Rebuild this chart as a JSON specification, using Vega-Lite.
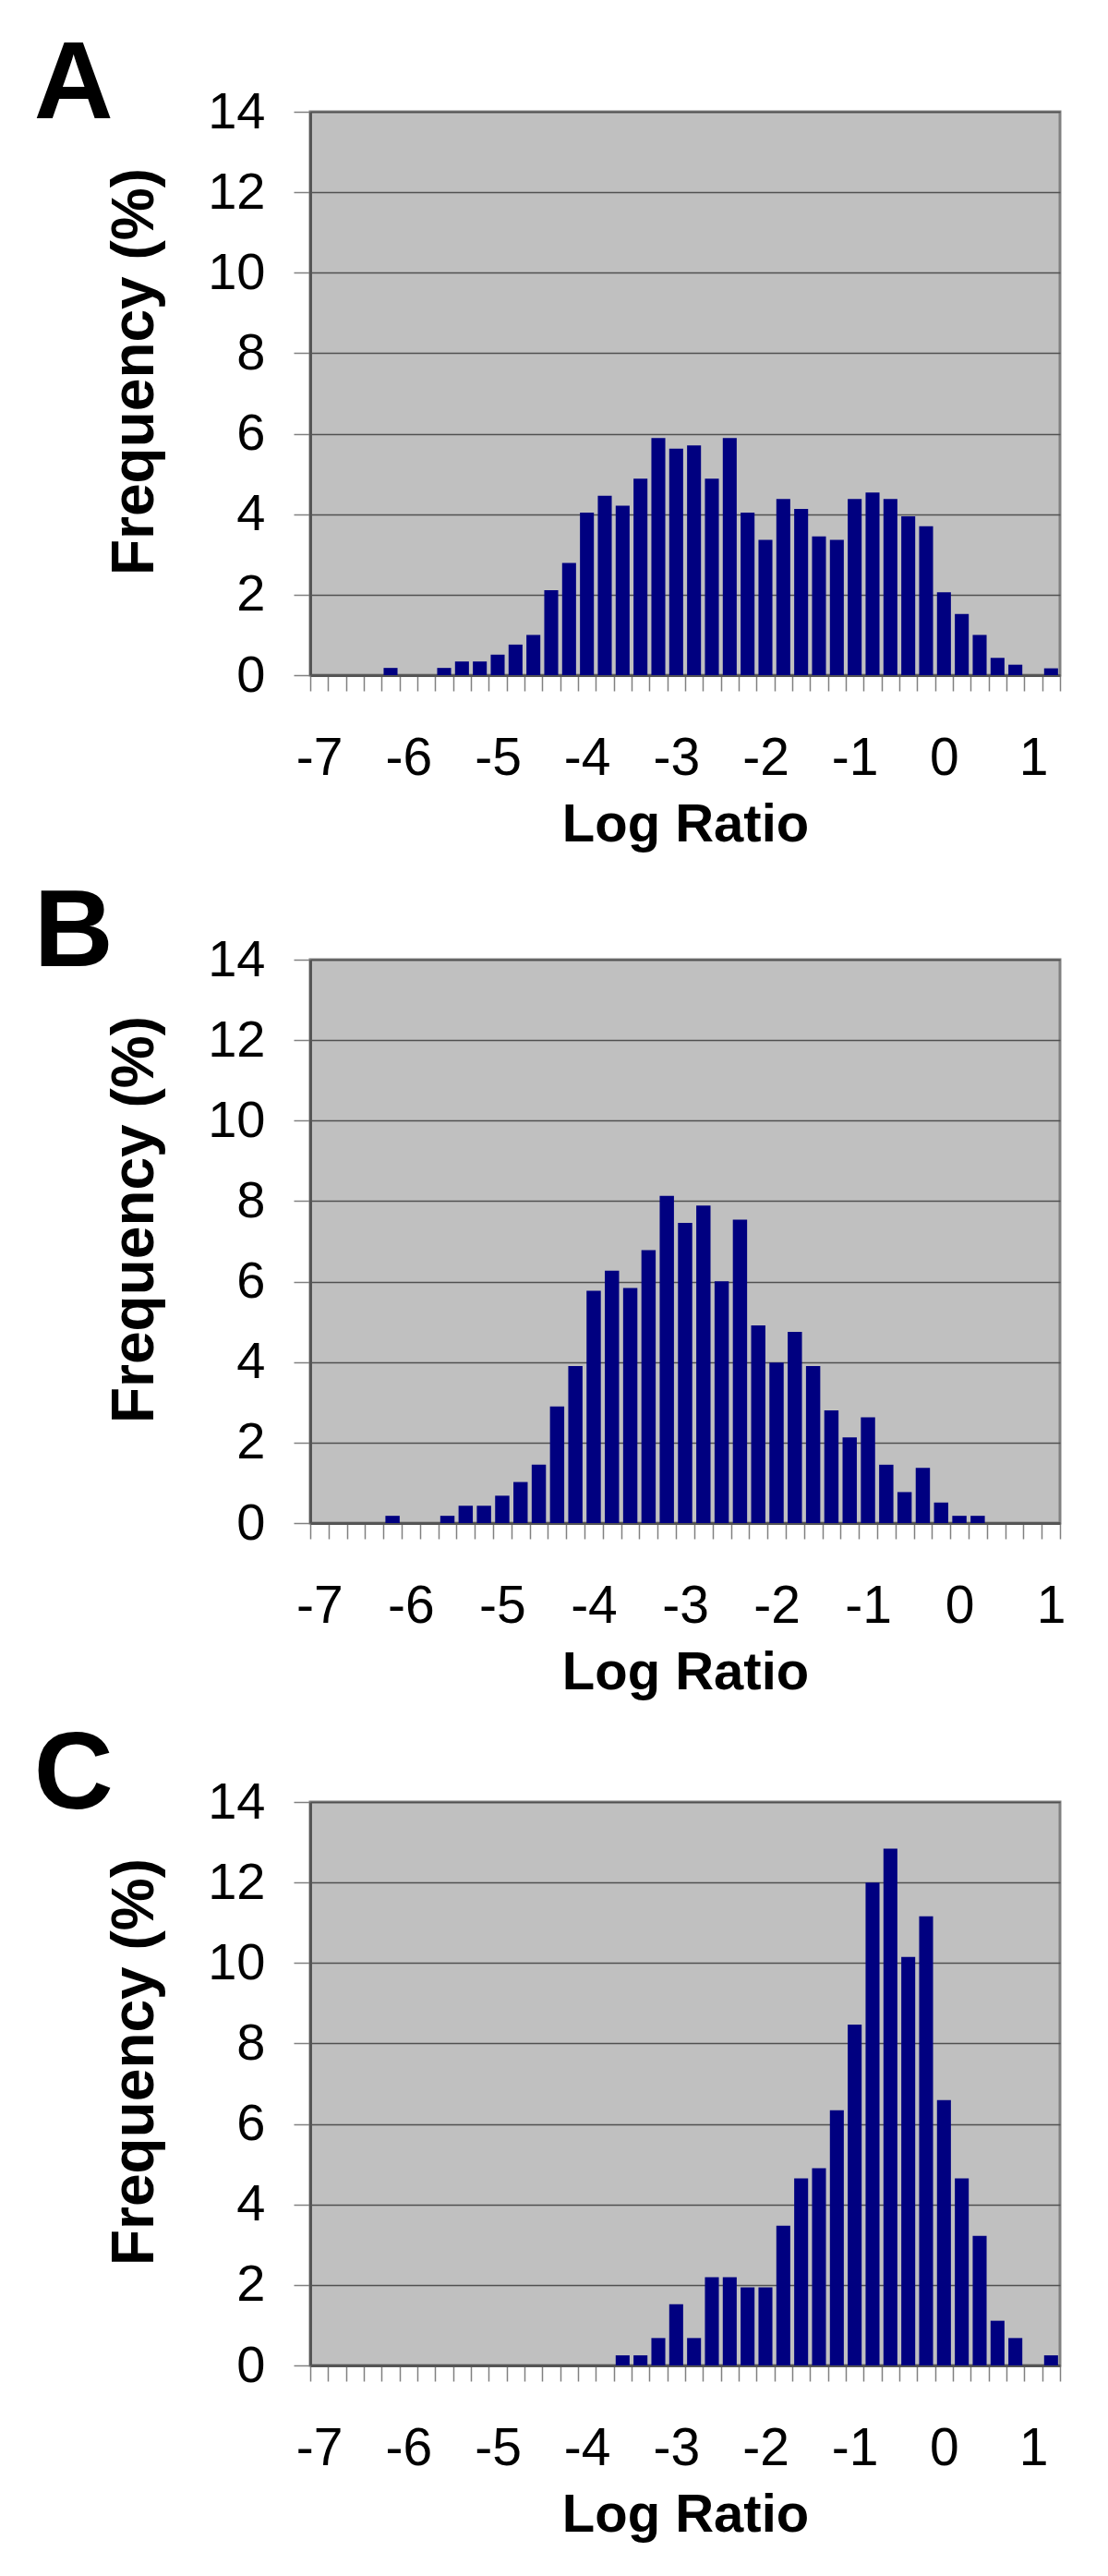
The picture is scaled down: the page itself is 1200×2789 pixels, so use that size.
{
  "$schema": "https://vega.github.io/schema/vega-lite/v6.json",
  "background": "white",
  "padding": {"left": 35, "top": 31, "right": 0, "bottom": 0},
  "datasets": {
    "A": [
      {"ratio": -7, "freq": 0}, {"ratio": -6.8, "freq": 0}, {"ratio": -6.6, "freq": 0}, {"ratio": -6.4, "freq": 0},
      {"ratio": -6.2, "freq": 0.18}, {"ratio": -6, "freq": 0}, {"ratio": -5.8, "freq": 0}, {"ratio": -5.6, "freq": 0.18},
      {"ratio": -5.4, "freq": 0.34}, {"ratio": -5.2, "freq": 0.34}, {"ratio": -5, "freq": 0.51}, {"ratio": -4.8, "freq": 0.76},
      {"ratio": -4.6, "freq": 1.0}, {"ratio": -4.4, "freq": 2.11}, {"ratio": -4.2, "freq": 2.79}, {"ratio": -4, "freq": 4.04},
      {"ratio": -3.8, "freq": 4.46}, {"ratio": -3.6, "freq": 4.21}, {"ratio": -3.4, "freq": 4.88}, {"ratio": -3.2, "freq": 5.89},
      {"ratio": -3, "freq": 5.63}, {"ratio": -2.8, "freq": 5.71}, {"ratio": -2.6, "freq": 4.88}, {"ratio": -2.4, "freq": 5.89},
      {"ratio": -2.2, "freq": 4.04}, {"ratio": -2, "freq": 3.36}, {"ratio": -1.8, "freq": 4.38}, {"ratio": -1.6, "freq": 4.13},
      {"ratio": -1.4, "freq": 3.45}, {"ratio": -1.2, "freq": 3.36}, {"ratio": -1, "freq": 4.38}, {"ratio": -0.8, "freq": 4.54},
      {"ratio": -0.6, "freq": 4.38}, {"ratio": -0.4, "freq": 3.95}, {"ratio": -0.2, "freq": 3.7}, {"ratio": 0, "freq": 2.06},
      {"ratio": 0.2, "freq": 1.52}, {"ratio": 0.4, "freq": 1.0}, {"ratio": 0.6, "freq": 0.43}, {"ratio": 0.8, "freq": 0.26},
      {"ratio": 1, "freq": 0}, {"ratio": 1.2, "freq": 0.17}
    ],
    "B": [
      {"ratio": -7, "freq": 0}, {"ratio": -6.8, "freq": 0}, {"ratio": -6.6, "freq": 0}, {"ratio": -6.4, "freq": 0},
      {"ratio": -6.2, "freq": 0.18}, {"ratio": -6, "freq": 0}, {"ratio": -5.8, "freq": 0}, {"ratio": -5.6, "freq": 0.18},
      {"ratio": -5.4, "freq": 0.43}, {"ratio": -5.2, "freq": 0.43}, {"ratio": -5, "freq": 0.68}, {"ratio": -4.8, "freq": 1.02},
      {"ratio": -4.6, "freq": 1.45}, {"ratio": -4.4, "freq": 2.9}, {"ratio": -4.2, "freq": 3.9}, {"ratio": -4, "freq": 5.77},
      {"ratio": -3.8, "freq": 6.27}, {"ratio": -3.6, "freq": 5.84}, {"ratio": -3.4, "freq": 6.78}, {"ratio": -3.2, "freq": 8.13},
      {"ratio": -3, "freq": 7.46}, {"ratio": -2.8, "freq": 7.89}, {"ratio": -2.6, "freq": 6.01}, {"ratio": -2.4, "freq": 7.54},
      {"ratio": -2.2, "freq": 4.91}, {"ratio": -2, "freq": 3.99}, {"ratio": -1.8, "freq": 4.75}, {"ratio": -1.6, "freq": 3.9},
      {"ratio": -1.4, "freq": 2.8}, {"ratio": -1.2, "freq": 2.13}, {"ratio": -1, "freq": 2.63}, {"ratio": -0.8, "freq": 1.45},
      {"ratio": -0.6, "freq": 0.77}, {"ratio": -0.4, "freq": 1.37}, {"ratio": -0.2, "freq": 0.51}, {"ratio": 0, "freq": 0.18},
      {"ratio": 0.2, "freq": 0.18}, {"ratio": 0.4, "freq": 0}, {"ratio": 0.6, "freq": 0}, {"ratio": 0.8, "freq": 0},
      {"ratio": 1, "freq": 0}
    ],
    "C": [
      {"ratio": -7, "freq": 0}, {"ratio": -6.8, "freq": 0}, {"ratio": -6.6, "freq": 0}, {"ratio": -6.4, "freq": 0},
      {"ratio": -6.2, "freq": 0}, {"ratio": -6, "freq": 0}, {"ratio": -5.8, "freq": 0}, {"ratio": -5.6, "freq": 0},
      {"ratio": -5.4, "freq": 0}, {"ratio": -5.2, "freq": 0}, {"ratio": -5, "freq": 0}, {"ratio": -4.8, "freq": 0},
      {"ratio": -4.6, "freq": 0}, {"ratio": -4.4, "freq": 0}, {"ratio": -4.2, "freq": 0}, {"ratio": -4, "freq": 0},
      {"ratio": -3.8, "freq": 0}, {"ratio": -3.6, "freq": 0.25}, {"ratio": -3.4, "freq": 0.25}, {"ratio": -3.2, "freq": 0.68},
      {"ratio": -3, "freq": 1.52}, {"ratio": -2.8, "freq": 0.68}, {"ratio": -2.6, "freq": 2.19}, {"ratio": -2.4, "freq": 2.19},
      {"ratio": -2.2, "freq": 1.94}, {"ratio": -2, "freq": 1.94}, {"ratio": -1.8, "freq": 3.47}, {"ratio": -1.6, "freq": 4.65},
      {"ratio": -1.4, "freq": 4.9}, {"ratio": -1.2, "freq": 6.34}, {"ratio": -1, "freq": 8.47}, {"ratio": -0.8, "freq": 12.0},
      {"ratio": -0.6, "freq": 12.84}, {"ratio": -0.4, "freq": 10.15}, {"ratio": -0.2, "freq": 11.16}, {"ratio": 0, "freq": 6.59},
      {"ratio": 0.2, "freq": 4.65}, {"ratio": 0.4, "freq": 3.22}, {"ratio": 0.6, "freq": 1.11}, {"ratio": 0.8, "freq": 0.68},
      {"ratio": 1, "freq": 0}, {"ratio": 1.2, "freq": 0.25}
    ]
  },
  "spacing": 25,
  "vconcat": [
    {
      "data": {"name": "A"},
      "title": {"text": "A"},
      "width": 812, "height": 610,
      "mark": {"type": "bar", "color": "#000080", "width": {"band": 0.78}},
      "encoding": {
        "x": {"field": "ratio", "type": "ordinal", "title": "Log Ratio", "scale": {"paddingInner": 0, "paddingOuter": 0},
              "axis": {"labelExpr": "datum.value % 1 == 0 ? '' + datum.value : ''"}},
        "y": {"field": "freq", "type": "quantitative", "title": "Frequency (%)", "scale": {"domain": [0, 14]},
              "axis": {"values": [0, 2, 4, 6, 8, 10, 12, 14]}}
      }
    },
    {
      "spacing": 19,
      "vconcat": [
        {
          "data": {"name": "B"},
          "title": {"text": "B"},
          "width": 812, "height": 610,
          "mark": {"type": "bar", "color": "#000080", "width": {"band": 0.78}},
          "encoding": {
            "x": {"field": "ratio", "type": "ordinal", "title": "Log Ratio", "scale": {"paddingInner": 0, "paddingOuter": 0},
                  "axis": {"labelExpr": "datum.value % 1 == 0 ? '' + datum.value : ''"}},
            "y": {"field": "freq", "type": "quantitative", "title": "Frequency (%)", "scale": {"domain": [0, 14]},
                  "axis": {"values": [0, 2, 4, 6, 8, 10, 12, 14]}}
          }
        },
        {
          "data": {"name": "C"},
          "title": {"text": "C"},
          "width": 812, "height": 610,
          "mark": {"type": "bar", "color": "#000080", "width": {"band": 0.78}},
          "encoding": {
            "x": {"field": "ratio", "type": "ordinal", "title": "Log Ratio", "scale": {"paddingInner": 0, "paddingOuter": 0},
                  "axis": {"labelExpr": "datum.value % 1 == 0 ? '' + datum.value : ''"}},
            "y": {"field": "freq", "type": "quantitative", "title": "Frequency (%)", "scale": {"domain": [0, 14]},
                  "axis": {"values": [0, 2, 4, 6, 8, 10, 12, 14]}}
          }
        }
      ],
      "resolve": {"scale": {"x": "independent", "y": "independent"}}
    }
  ],
  "resolve": {"scale": {"x": "independent", "y": "independent"}},
  "config": {
    "font": "Liberation Sans",
    "view": {"fill": "#C0C0C0", "stroke": "#808080", "strokeWidth": 3},
    "title": {"anchor": "start", "frame": "bounds", "fontSize": 119, "font": "Liberation Sans", "fontWeight": "bold", "color": "#000000", "baseline": "alphabetic", "offset": -60, "dx": -78},
    "axis": {"labelFont": "Liberation Sans", "titleFont": "Liberation Sans", "labelColor": "#000000", "titleColor": "#000000", "tickColor": "#808080", "tickWidth": 1.5, "domainColor": "#555555", "domainWidth": 3, "titleFontWeight": "bold"},
    "axisY": {"grid": true, "gridColor": "#505050", "gridWidth": 1.5, "tickSize": 18, "labelFontSize": 56, "labelPadding": 31, "titleFontSize": 64, "titlePadding": 46, "titleY": 281},
    "axisX": {"grid": false, "tickBand": "extent", "tickSize": 17, "labelFontSize": 57, "labelPadding": 45, "labelAngle": 0, "labelOverlap": false, "titleFontSize": 58, "titlePadding": 15}
  }
}
